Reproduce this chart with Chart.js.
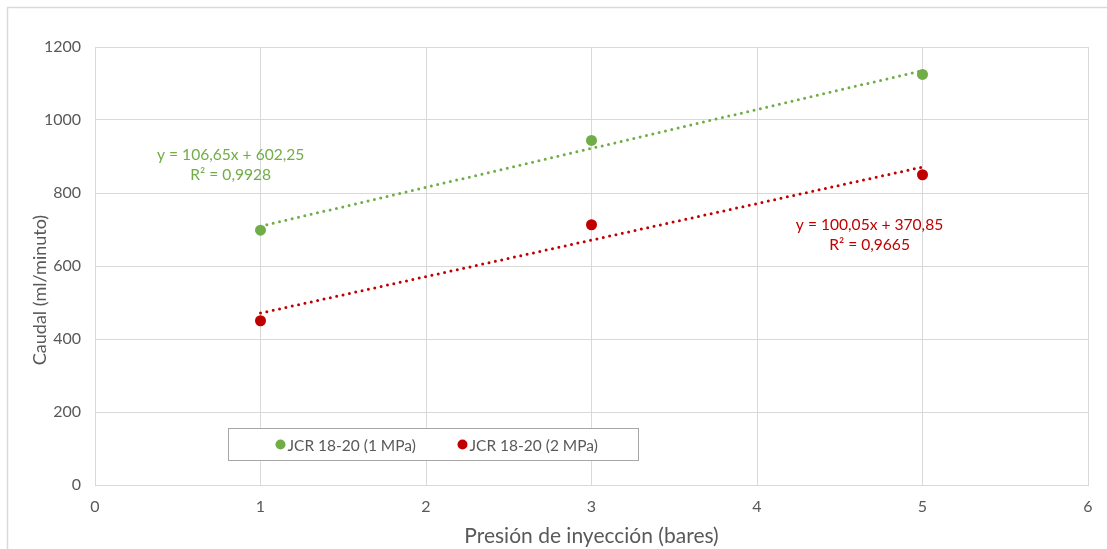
<!DOCTYPE html>
<html>
<head>
<meta charset="utf-8">
<script src="https://cdn.jsdelivr.net/npm/chart.js@4/dist/chart.umd.min.js"></script>
<style>
  html, body { margin: 0; padding: 0; background: #fff; overflow: hidden; }
  #wrap { position: relative; width: 1107px; height: 549px; }
</style>
</head>
<body>
<div id="wrap"><canvas id="chart" width="1107" height="549"></canvas></div>
<script>
// Injection pressure (bar) and measured flow (ml/min) for each series
const pressure = [1, 3, 5];
const flow1MPa = [698, 944, 1125];
const flow2MPa = [450, 713, 850];

const seriesLabels = ['JCR 18-20 (1 MPa)', 'JCR 18-20 (2 MPa)'];
const seriesColors = ['#70ad47', '#c00000'];

// Linear trend coefficients as printed on the chart
const trendSlope = [106.65, 100.05];
const trendIntercept = [602.25, 370.85];
const trendText = [
  ['y = 106,65x + 602,25', 'R² = 0,9928'],
  ['y = 100,05x + 370,85', 'R² = 0,9665']
];
// Where each equation label sits, in axis units
const trendLabelPos = [[0.82, 905], [4.68, 713]];

const xTicks = [0, 1, 2, 3, 4, 5, 6];
const yTicks = [0, 200, 400, 600, 800, 1000, 1200];
const yTitle = 'Caudal (ml/minuto)';
const xTitle = 'Presión de inyección (bares)';

const FONT = 'Lato, "Open Sans", sans-serif';
const GRID = '#d9d9d9';
const TEXT = '#595959';

function points(ys) { return pressure.map((x, i) => ({ x, y: ys[i] })); }
function trend(k) {
  const x0 = pressure[0], x1 = pressure[pressure.length - 1];
  return [
    { x: x0, y: trendSlope[k] * x0 + trendIntercept[k] },
    { x: x1, y: trendSlope[k] * x1 + trendIntercept[k] }
  ];
}

const frame = {
  id: 'frame',
  beforeDraw(chart) {
    const c = chart.ctx;
    c.save();
    c.fillStyle = '#fff';
    c.fillRect(0, 0, chart.width, chart.height);
    c.strokeStyle = GRID;
    c.lineWidth = 1.5;
    c.strokeRect(7.5, 7.5, chart.width + 20, chart.height + 20);
    c.restore();
  }
};

const annotations = {
  id: 'annotations',
  afterDatasetsDraw(chart) {
    const c = chart.ctx;
    const xs = chart.scales.x, ys = chart.scales.y;
    const a = chart.chartArea;
    c.save();
    // vertical axis title, set a little below the plot's middle
    c.save();
    c.translate(40, (a.top + a.bottom) / 2 + 24);
    c.rotate(-Math.PI / 2);
    c.font = '18px ' + FONT;
    c.fillStyle = TEXT;
    c.textAlign = 'center';
    c.textBaseline = 'middle';
    c.fillText(yTitle, 0, 0);
    c.restore();
    // trend equations
    c.font = '15.6px ' + FONT;
    c.textAlign = 'center';
    c.textBaseline = 'middle';
    trendText.forEach((lines, k) => {
      const px = xs.getPixelForValue(trendLabelPos[k][0]);
      const py = ys.getPixelForValue(trendLabelPos[k][1]);
      c.fillStyle = seriesColors[k];
      lines.forEach((t, j) => c.fillText(t, px, py + j * 20));
    });
    // legend box inside the plot
    const bx = a.left + 133.5, by = a.top + 381.5, bw = 410, bh = 32;
    c.fillStyle = '#fff';
    c.fillRect(bx, by, bw, bh);
    c.strokeStyle = '#a6a6a6';
    c.lineWidth = 1;
    c.strokeRect(bx, by, bw, bh);
    c.textAlign = 'left';
    c.font = '15.5px ' + FONT;
    const offs = [52, 234];
    seriesLabels.forEach((lab, k) => {
      const mx = bx + offs[k], my = by + bh / 2;
      c.fillStyle = seriesColors[k];
      c.beginPath();
      c.arc(mx, my, 5, 0, Math.PI * 2);
      c.fill();
      c.fillStyle = TEXT;
      c.fillText(lab, mx + 7, my + 1);
    });
    c.restore();
  }
};

new Chart(document.getElementById('chart'), {
  type: 'scatter',
  data: {
    datasets: [
      {
        label: seriesLabels[0], data: points(flow1MPa), order: 1,
        backgroundColor: seriesColors[0], borderColor: seriesColors[0],
        pointRadius: 5.5, pointHoverRadius: 5.5, pointBorderWidth: 0
      },
      {
        label: seriesLabels[1], data: points(flow2MPa), order: 1,
        backgroundColor: seriesColors[1], borderColor: seriesColors[1],
        pointRadius: 5.5, pointHoverRadius: 5.5, pointBorderWidth: 0
      },
      {
        label: 'trend1', data: trend(0), type: 'line', order: 2,
        showLine: true, pointRadius: 0, borderColor: seriesColors[0],
        borderWidth: 3, borderDash: [0, 6.5], borderCapStyle: 'round', fill: false
      },
      {
        label: 'trend2', data: trend(1), type: 'line', order: 2,
        showLine: true, pointRadius: 0, borderColor: seriesColors[1],
        borderWidth: 3, borderDash: [0, 6.5], borderCapStyle: 'round', fill: false
      }
    ]
  },
  options: {
    responsive: false,
    animation: false,
    events: [],
    layout: { padding: { left: 0, right: 19, top: 47, bottom: 0 } },
    plugins: { legend: { display: false }, tooltip: { enabled: false }, title: { display: false } },
    scales: {
      x: {
        type: 'linear', min: 0, max: 6,
        afterBuildTicks: s => { s.ticks = xTicks.map(v => ({ value: v })); },
        afterFit: s => { s.height = 64; },
        grid: { color: GRID, lineWidth: 1, drawTicks: false },
        border: { color: GRID, width: 1 },
        ticks: { color: TEXT, font: { family: FONT, size: 16 }, padding: 12, callback: v => String(v) },
        title: {
          display: true, text: xTitle, color: TEXT,
          font: { family: FONT, size: 21 }, padding: { top: 0, bottom: 0 }
        }
      },
      y: {
        type: 'linear', min: 0, max: 1200,
        afterBuildTicks: s => { s.ticks = yTicks.map(v => ({ value: v })); },
        afterFit: s => { s.width = 95; },
        grid: { color: GRID, lineWidth: 1, drawTicks: false },
        border: { color: GRID, width: 1 },
        ticks: { color: TEXT, font: { family: FONT, size: 16 }, padding: 14, callback: v => String(v) }
      }
    }
  },
  plugins: [frame, annotations]
});
</script>
</body>
</html>
